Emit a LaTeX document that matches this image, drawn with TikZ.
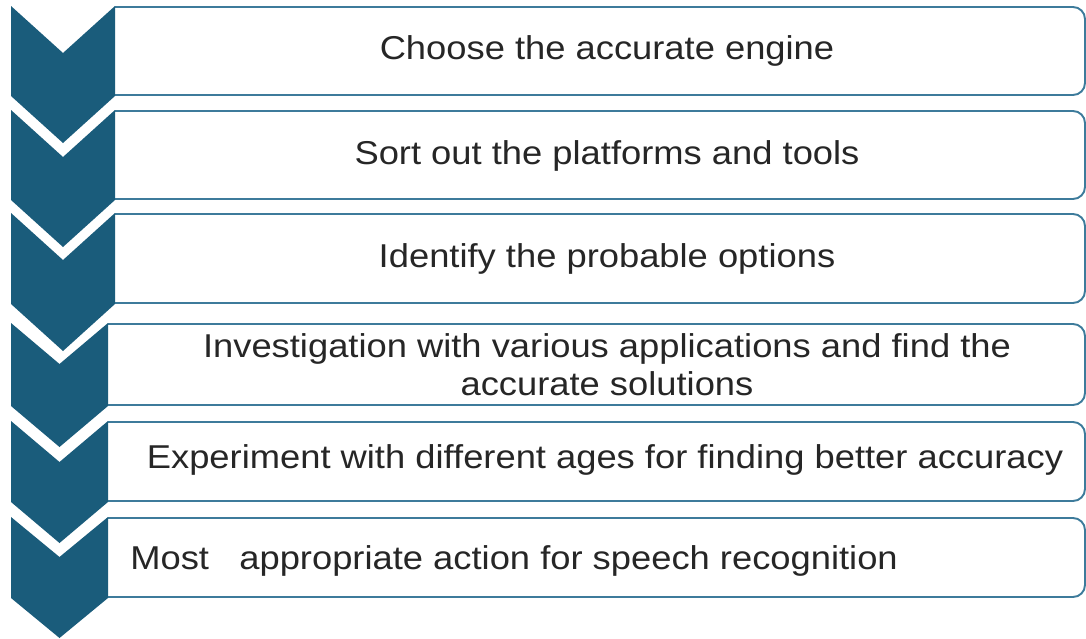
\documentclass[tikz,border=0pt]{standalone}
\usepackage{fontspec}
\setmainfont{Liberation Sans}[FakeStretch=1.1]
\usetikzlibrary{positioning}
\definecolor{chevronblue}{HTML}{1A5C7B}
\definecolor{boxline}{HTML}{3D7B9B}
\definecolor{steptext}{HTML}{262626}
\tikzset{
	chevron/.style={fill=chevronblue, draw=none}
}
\tikzset{
	stepbox/.style={draw=boxline, line width=1.1pt, fill=white, rounded corners=0.24cm}
}
\tikzset{
	steplabel/.style={font=\fontsize{18.8}{21.5}\selectfont\color{steptext}, inner sep=0pt, align=center}
}

\begin{document}
\begin{tikzpicture}[x=0.02cm, y=-0.02cm]
      \useasboundingbox (0,0) rectangle (1086,639);
      % box cut off square at the chevron, then the chevron itself
      \foreach \t/\b/\r/\d in {
        6/96/115/47, 110/200/115/47, 213/304/115/47,
        323/406/108/41, 421/502/108/41, 517/598/108/40}
      {
        \begin{scope}
          \clip (\r,0) rectangle (1086,639);
          \draw[stepbox] (\r-20,\t+1) rectangle (1085,\b-1);
        \end{scope}
        \fill[chevron] (11,\t) -- ({(11+\r)/2},\t+\d) -- (\r,\t)
          -- (\r,\b) -- ({(11+\r)/2},\b+\d) -- (11,\b) -- cycle;
      }
      \node[steplabel] (engine) at (607,51) {Choose the accurate engine};
      \node[steplabel] (tools) at (607,156) {Sort out the platforms and tools};
      \node[steplabel] (options) at (607,259) {Identify the probable options};
      \node[steplabel] (apps) at (607,365)
        {Investigation with various applications and find the\\accurate solutions};
      \node[steplabel] (ages) at (605,460)
        {Experiment with different ages for finding better accuracy};
      \node[steplabel, anchor=west] (action) at (130,561)
        {Most~~~appropriate action for speech recognition};
    \end{tikzpicture}
\end{document}
